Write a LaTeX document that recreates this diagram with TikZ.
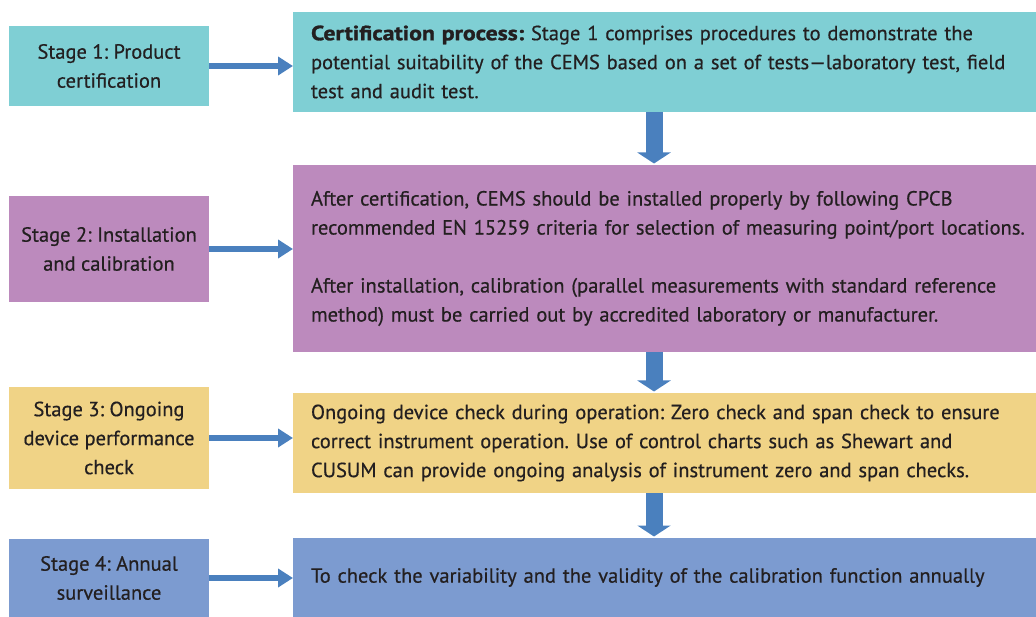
\documentclass[tikz,border=0pt]{standalone}
\usepackage{fontspec}
\setmainfont{PT Sans}[FakeBold=0.5]
\newfontfamily\heavyfont{PT Sans}[FakeStretch=1.16, BoldFeatures={FakeBold=1.4}]
\usetikzlibrary{arrows.meta}

\definecolor{tealfill}{HTML}{7FCFD4}
\definecolor{plumfill}{HTML}{BC8ABD}
\definecolor{sandfill}{HTML}{F0D386}
\definecolor{bluefill}{HTML}{7C9BD0}
\definecolor{arrowblue}{HTML}{4A80BE}
\definecolor{ink}{HTML}{231F20}

\tikzset{
  stagebox/.style={anchor=north west, inner sep=0pt, outer sep=0pt,
    minimum width=200pt, align=center, text=ink,
    font=\fontsize{20.5}{29}\selectfont\frenchspacing},
  infobox/.style={anchor=north west, inner xsep=18pt, inner ysep=0pt,
    outer sep=0pt, minimum width=743pt, text width=730pt, align=left,
    text=ink, font=\fontsize{20.5}{29}\selectfont\frenchspacing},
  sidearrow/.style={-{Triangle[length=15pt,width=18pt]}, line width=6pt,
    draw=arrowblue},
  downarrow/.style={-{Triangle[length=11pt,width=33pt]}, line width=17pt,
    draw=arrowblue, shorten >=1.5pt},
}

\begin{document}
\begin{tikzpicture}[x=1pt, y=-1pt]
  \def\Xs{9};   % stage column
  \def\Xc{293}; % content column
  \def\Xd{361}; % down arrows, from the content column
  \useasboundingbox (0,0) rectangle (1036,617);

  % stages
  \node[stagebox, fill=tealfill, minimum height=80pt] (s1) at (\Xs, 26)
    {Stage 1: Product\\certification};
  \node[stagebox, fill=plumfill, minimum height=106pt] (s2) at (\Xs, 196)
    {Stage 2: Installation\\and calibration};
  \node[stagebox, fill=sandfill, minimum height=102pt] (s3) at (\Xs, 387)
    {Stage 3: Ongoing\\device performance\\check};
  \node[stagebox, fill=bluefill, minimum height=78pt] (s4) at (\Xs, 539)
    {Stage 4: Annual\\surveillance};

  % contents
  \node[infobox, fill=tealfill, minimum height=100pt] (c1) at (\Xc, 12)
    {{\heavyfont\bfseries Certification process:} Stage 1 comprises procedures to demonstrate the\\
     potential suitability of the CEMS based on a set of tests—laboratory test, field\\
     test and audit test.};
  \node[infobox, fill=plumfill, minimum height=187pt] (c2) at (\Xc, 165)
    {After certification, CEMS should be installed properly by following CPCB\\
     recommended EN 15259 criteria for selection of measuring point/port locations.\\[29pt]
     After installation, calibration (parallel measurements with standard reference\\
     method) must be carried out by accredited laboratory or manufacturer.};
  \node[infobox, fill=sandfill, minimum height=100pt] (c3) at (\Xc, 393)
    {Ongoing device check during operation: Zero check and span check to ensure\\
     correct instrument operation. Use of control charts such as Shewart and\\
     CUSUM can provide ongoing analysis of instrument zero and span checks.};
  \node[infobox, fill=bluefill, minimum height=79pt] (c4) at (\Xc, 538)
    {To check the variability and the validity of the calibration function annually};

  % stage to content
  \foreach \i in {1,...,4}
    \draw[sidearrow] (s\i.east) -- (s\i.east -| c\i.west);

  % content to content
  \foreach \i/\j in {1/2,2/3,3/4}
    \draw[downarrow] ([xshift=\Xd pt]c\i.south west) -- ([xshift=\Xd pt]c\j.north west);
\end{tikzpicture}
\end{document}
